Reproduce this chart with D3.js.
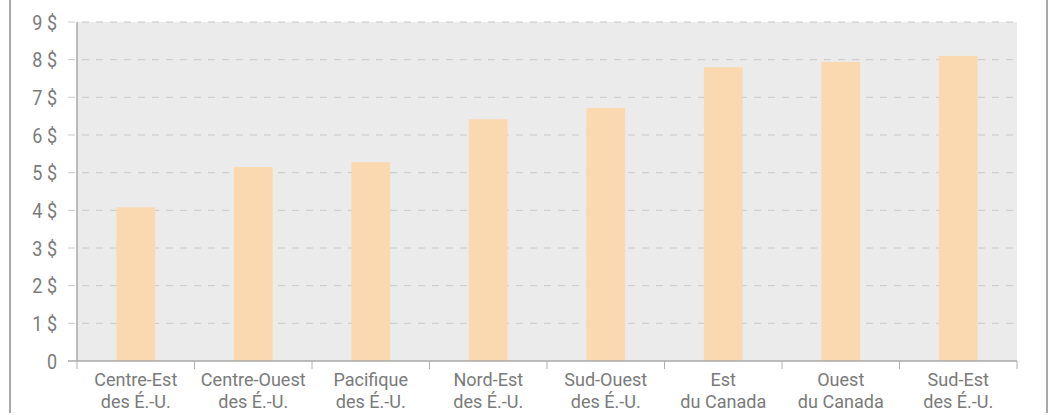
<!DOCTYPE html>
<html>
<head>
<meta charset="utf-8">
<script src="https://cdn.jsdelivr.net/npm/d3@7"></script>
<style>
  body { margin: 0; background: #fff; }
  text { font-family: "Roboto", "Liberation Sans", sans-serif; fill: #7a7a7a; }
</style>
</head>
<body>
<script>
var regions = [["Centre-Est", "des É.-U."], ["Centre-Ouest", "des É.-U."], ["Pacifique", "des É.-U."], ["Nord-Est", "des É.-U."],
  ["Sud-Ouest", "des É.-U."], ["Est", "du Canada"], ["Ouest", "du Canada"], ["Sud-Est", "des É.-U."]];
var prices = [4.08, 5.15, 5.28, 6.42, 6.72, 7.8, 7.94, 8.1];
var yTicks = [0, 1, 2, 3, 4, 5, 6, 7, 8, 9];

var width = 1049, height = 415;
var plotLeft = 77, plotRight = 1017, plotTop = 22, plotBottom = 361;
var squeezeY = 0.9, squeezeX = 0.95;

var svg = d3.select("body").append("svg").attr("width", width).attr("height", height);

// frame lines left and right
svg.append("line").attr("x1", 10).attr("x2", 10).attr("y1", 0).attr("y2", 413)
  .attr("stroke", "#a8a8a8").attr("stroke-width", 2);
svg.append("line").attr("x1", 1047).attr("x2", 1047).attr("y1", 0).attr("y2", 413)
  .attr("stroke", "#a8a8a8").attr("stroke-width", 2);

var x = d3.scaleBand().domain(d3.range(regions.length)).range([plotLeft, plotRight]).paddingInner(0.67).paddingOuter(0.335);
var band = d3.scaleBand().domain(d3.range(regions.length)).range([plotLeft, plotRight]);
var y = d3.scaleLinear().domain([0, 9]).range([plotBottom, plotTop]);

svg.append("rect").attr("x", plotLeft).attr("y", plotTop).attr("width", plotRight - plotLeft).attr("height", plotBottom - plotTop)
  .attr("fill", "#ebebeb");

// grid
svg.selectAll(".grid").data(yTicks.filter(function (d) { return d > 0; })).enter().append("line")
  .attr("x1", 68).attr("x2", plotRight - 1)
  .attr("y1", function (d) { return y(d); }).attr("y2", function (d) { return y(d); })
  .attr("stroke", "#c8c8c8").attr("stroke-width", 1).attr("stroke-dasharray", "7,7");

svg.selectAll(".bar").data(prices).enter().append("rect")
  .attr("x", function (d, i) { return x(i); })
  .attr("width", x.bandwidth())
  .attr("y", function (d) { return y(d); })
  .attr("height", function (d) { return y(0) - y(d); })
  .attr("fill", "#fad9b0");

// axes lines
svg.append("line").attr("x1", plotLeft).attr("x2", plotLeft).attr("y1", plotTop).attr("y2", plotBottom)
  .attr("stroke", "#a8a8a8").attr("stroke-width", 1.5);
svg.append("line").attr("x1", 68).attr("x2", plotRight).attr("y1", plotBottom).attr("y2", plotBottom)
  .attr("stroke", "#a8a8a8").attr("stroke-width", 1.5);

var bounds = band.domain().map(function (i) { return band(i); }).concat([plotRight]);
svg.selectAll(".tick").data(bounds).enter().append("line")
  .attr("x1", function (d) { return d; }).attr("x2", function (d) { return d; })
  .attr("y1", plotBottom).attr("y2", plotBottom + 8)
  .attr("stroke", "#b0b0b0").attr("stroke-width", 1);

svg.selectAll(".ylab").data(yTicks).enter().append("text")
  .attr("transform", function (d) { return "translate(57," + (y(d) + 7.5) + ") scale(" + squeezeY + ",1)"; })
  .attr("text-anchor", "end").attr("font-size", 20)
  .text(function (d) { return d === 0 ? "0" : d + " $"; });

var labels = svg.selectAll(".xlab").data(regions).enter().append("text")
  .attr("transform", function (d, i) { return "translate(" + (band(i) + band.bandwidth() / 2) + ",0) scale(" + squeezeX + ",1)"; })
  .attr("text-anchor", "middle").attr("font-size", 19);
labels.append("tspan").attr("x", 0).attr("y", 386).text(function (d) { return d[0]; });
labels.append("tspan").attr("x", 0).attr("y", 408).text(function (d) { return d[1]; });
</script>
</body>
</html>
